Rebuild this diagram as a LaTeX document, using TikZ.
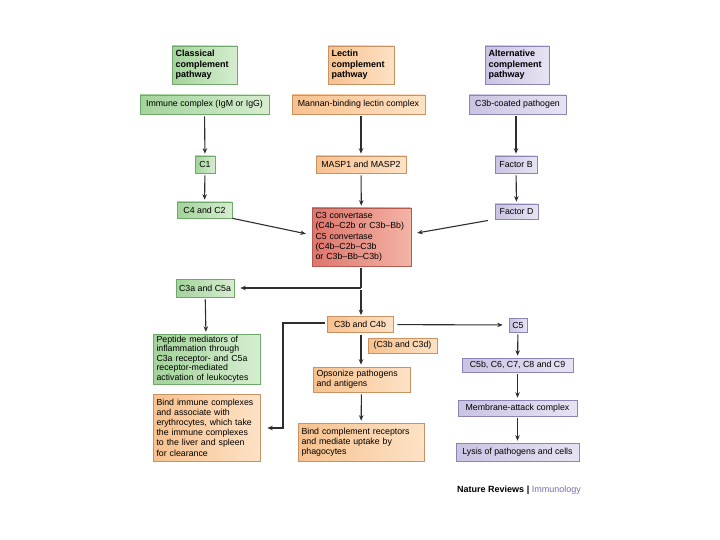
\documentclass[tikz,border=0pt]{standalone}
\usepackage{fontspec}
\setmainfont{Liberation Sans}
\usetikzlibrary{arrows.meta}
\definecolor{gfillA}{HTML}{A3D39B}
\definecolor{gfillB}{HTML}{D6EDD0}
\definecolor{gdraw}{HTML}{6FA86A}
\definecolor{ofillA}{HTML}{F7C18E}
\definecolor{ofillB}{HTML}{FDE2C6}
\definecolor{odraw}{HTML}{C99262}
\definecolor{pfillA}{HTML}{CBC3E2}
\definecolor{pfillB}{HTML}{E7E3F3}
\definecolor{pdraw}{HTML}{8C84B4}
\definecolor{rfillA}{HTML}{DE756C}
\definecolor{rfillB}{HTML}{F3B4A6}
\definecolor{rdraw}{HTML}{B35A52}
\definecolor{arr}{HTML}{2E2E2E}
\definecolor{immu}{HTML}{7A6AA6}
\newcommand{\fs}{\fontsize{8.8}{10.2}\selectfont}
\tikzset{
  bx/.style={draw, line width=0.6pt, inner sep=2pt, font=\fs, align=center},
  gbox/.style={bx, draw=gdraw, left color=gfillA, right color=gfillB},
  obox/.style={bx, draw=odraw, left color=ofillA, right color=ofillB},
  pbox/.style={bx, draw=pdraw, left color=pfillA, right color=pfillB},
  rbox/.style={bx, draw=rdraw, left color=rfillA, right color=rfillB},
  hdr/.style={font=\fontsize{9}{10.4}\selectfont\bfseries, align=left, text width=#1, inner xsep=3.5pt},
  tw/.style={align=left, text width=#1, inner xsep=3.5pt},
  ar/.style={draw=arr, line width=1.1pt, -{Stealth[length=5.5pt,width=4.5pt]}, shorten >=2pt, shorten <=2pt},
  ln/.style={draw=arr, line width=1.1pt}
}
\begin{document}
\begin{tikzpicture}[x=1pt,y=-1pt]
\useasboundingbox (0,0) rectangle (720,540);
% headers
\node[gbox, hdr=58pt, minimum width=65pt, minimum height=38pt] (hc) at (204.5,65) {Classical\\complement\\pathway};
\node[obox, hdr=59pt, minimum width=66pt, minimum height=38pt] (hl) at (361,65) {Lectin\\complement\\pathway};
\node[pbox, hdr=57pt, minimum width=64pt, minimum height=38pt] (ha) at (517,65) {Alternative\\complement\\pathway};
% row 1
\node[gbox, minimum width=129pt, minimum height=19pt] (ic) at (204.5,104.5) {Immune complex (IgM or IgG)};
\node[obox, minimum width=133pt, minimum height=19pt] (mb) at (358.5,104.5) {Mannan-binding lectin complex};
\node[pbox, minimum width=97pt, minimum height=19pt] (cp) at (517.5,104.5) {C3b-coated pathogen};
% row 2
\node[gbox, minimum width=20pt, minimum height=17pt, inner sep=1pt] (c1) at (205,164.5) {C1};
\node[obox, minimum width=90pt, minimum height=17pt] (masp) at (361,164.5) {MASP1 and MASP2};
\node[pbox, minimum width=42pt, minimum height=17pt, inner sep=1pt] (fb) at (516,164.5) {Factor B};
% row 3
\node[gbox, minimum width=55pt, minimum height=16pt] (c42) at (204.5,210) {C4 and C2};
\node[pbox, minimum width=43pt, minimum height=15pt, inner sep=1pt] (fd) at (516.5,211.5) {Factor D};
\node[rbox, tw=92pt, minimum width=99pt, minimum height=58pt] (conv) at (361.5,237) {C3 convertase\\(C4b--C2b or C3b--Bb)\\C5 convertase\\(C4b--C2b--C3b\\or C3b--Bb--C3b)};
% row 4
\node[gbox, minimum width=58pt, minimum height=18pt] (c3a) at (205,288) {C3a and C5a};
\node[obox, minimum width=66pt, minimum height=16pt] (c3b) at (360,324.5) {C3b and C4b};
\node[pbox, minimum width=18pt, minimum height=14pt, inner sep=1pt] (c5) at (518,325) {C5};
\node[gbox, tw=100pt, minimum width=107pt, minimum height=48pt, font=\fontsize{8.8}{9.4}\selectfont] (pep) at (206.5,359) {Peptide mediators of\\inflammation through\\C3a receptor- and C5a\\receptor-mediated\\activation of leukocytes};
\node[obox, minimum width=69pt, minimum height=15pt, inner sep=1pt] (c3d) at (402.5,345.5) {(C3b and C3d)};
\node[obox, tw=90pt, minimum width=97pt, minimum height=25pt] (ops) at (361.5,379.5) {Opsonize pathogens\\and antigens};
\node[pbox, minimum width=111pt, minimum height=14pt, inner sep=1pt] (c5b) at (517.5,365) {C5b, C6, C7, C8 and C9};
\node[obox, tw=100pt, minimum width=107pt, minimum height=67pt] (bic) at (206.5,427.5) {Bind immune complexes\\and associate with\\erythrocytes, which take\\the immune complexes\\to the liver and spleen\\for clearance};
\node[obox, tw=119pt, minimum width=126pt, minimum height=38pt] (bcr) at (361,442) {Bind complement receptors\\and mediate uptake by\\phagocytes};
\node[pbox, minimum width=119pt, minimum height=16pt] (mac) at (517.5,408) {Membrane-attack complex};
\node[pbox, minimum width=123pt, minimum height=18pt] (lys) at (517.5,452) {Lysis of pathogens and cells};
% footer
\node[anchor=east, inner sep=0pt, font=\fontsize{9}{10}\selectfont] (nr) at (581,490) {\textbf{Nature Reviews} \textbf{|} \textcolor{immu}{Immunology}};
% connectors
\draw[ar] (ic) -- (c1);
\draw[ar] (mb.south -| masp) -- (masp);
\draw[ar] (cp.south -| fb) -- (fb);
\draw[ar] (c1) -- (c42);
\draw[ar] (masp) -- (conv);
\draw[ar] (fb) -- (fd);
\draw[ar, shorten <=0pt, shorten >=6pt] (c42.south east) -- (conv.west |- 0,235);
\draw[ar, shorten <=7pt, shorten >=6pt] (fd.south west) -- (conv.east |- 0,234);
\coordinate (br) at (361,288);
\draw[ln, shorten <=2pt] (conv.south -| br) -- (br);
\draw[ar, shorten >=1pt] (br) -- (c3b.north -| br);
\draw[ar, shorten <=0pt, shorten >=6pt] (br) -- (c3a);
\draw[ar] (c3a) -- (pep);
\coordinate (lk) at (283,323);
\coordinate (lb) at (283,428);
\draw[ar, shorten >=7pt] (c3b.west |- lk) -- (lk) -- (lb) -- (bic.east |- lb);
\draw[ar, shorten <=4pt, shorten >=6pt] (c3b) -- (c5);
\draw[ar, shorten >=2pt] (c3b.south -| br) -- (ops.north -| br);
\draw[ar] (ops) -- (bcr);
\draw[ar] (c5) -- (c5b);
\draw[ar] (c5b) -- (mac);
\draw[ar] (mac) -- (lys);
\end{tikzpicture}
\end{document}
